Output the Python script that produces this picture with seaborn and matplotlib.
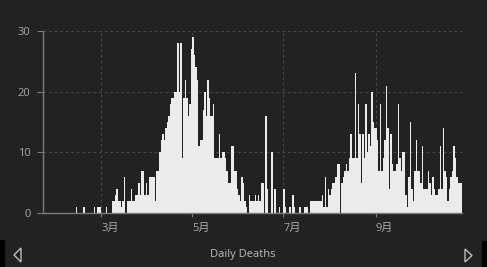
import matplotlib
matplotlib.use("Agg")
import matplotlib.pyplot as plt
import seaborn as sns
import pandas as pd
from matplotlib.patches import Polygon, Rectangle
import matplotlib.transforms as mtransforms

# ---------------- data ----------------
start_date = "2020-01-22"
deaths_jan = [0, 0, 0, 0, 0, 0, 0, 0, 0, 0]
deaths_feb = [0, 0, 0, 0, 0, 0, 0, 0, 0, 0, 0, 0, 1, 0, 0, 0, 0, 1, 0, 0,
              0, 0, 0, 0, 1, 0, 1, 1, 1]
deaths_mar = [0, 0, 0, 1, 0, 0, 0, 2, 2, 3, 4, 2, 2, 1, 2, 6, 0, 2, 2, 2,
              4, 2, 2, 3, 3, 5, 3, 7, 7, 3, 5]
deaths_apr = [3, 6, 6, 6, 6, 2, 7, 7, 10, 12, 13, 12, 14, 15, 16, 18, 19, 19, 20, 20,
              28, 20, 28, 9, 19, 22, 19, 16, 18, 27]
deaths_may = [29, 26, 24, 22, 11, 12, 12, 17, 20, 16, 22, 19, 16, 16, 18, 9, 9, 9, 13, 9,
              10, 10, 9, 7, 5, 5, 11, 11, 7, 7, 4]
deaths_jun = [3, 2, 6, 5, 2, 1, 0, 3, 2, 2, 2, 3, 2, 3, 2, 5, 5, 0, 16, 4,
              0, 0, 10, 0, 4, 0, 0, 1, 0, 0]
deaths_jul = [4, 1, 0, 0, 1, 0, 3, 1, 0, 0, 0, 1, 0, 0, 1, 1, 1, 0, 2, 2,
              2, 2, 2, 2, 2, 2, 3, 1, 6, 1, 4]
deaths_aug = [3, 4, 5, 5, 6, 8, 8, 0, 5, 6, 7, 8, 7, 9, 13, 9, 9, 23, 9, 18,
              13, 5, 13, 9, 18, 10, 13, 11, 20, 15, 14]
deaths_sep = [14, 12, 7, 18, 7, 9, 12, 21, 14, 4, 13, 8, 7, 7, 8, 18, 9, 7, 10, 10,
              3, 1, 6, 15, 4, 2, 7, 12, 7, 7]
deaths_oct = [5, 11, 4, 4, 4, 7, 5, 3, 6, 4, 3, 3, 4, 11, 4, 14, 7, 6, 2, 4,
              6, 7, 11, 9, 6, 5, 5, 5]
deaths = (deaths_jan + deaths_feb + deaths_mar + deaths_apr + deaths_may +
          deaths_jun + deaths_jul + deaths_aug + deaths_sep + deaths_oct)

tick_dates = ["2020-03-01", "2020-05-01", "2020-07-01", "2020-09-01"]
tick_labels = ["3月", "5月", "7月", "9月"]
y_ticks = [0, 10, 20, 30]
caption = "Daily Deaths"

# ---------------- style ----------------
BG = "#222222"
BAR = "#ebebeb"
GRID = "#484848"
SPINE = "#7a7a7a"
TEXT = "#a8a8a8"

sns.set_theme(style="dark")
plt.rcParams["font.family"] = ["Open Sans", "Noto Sans CJK SC", "DejaVu Sans"]

dates = pd.date_range(start_date, periods=len(deaths), freq="D")
df = pd.DataFrame({"day": range(len(deaths)), "deaths": deaths})

W, H = 487, 267
fig = plt.figure(figsize=(W / 100, H / 100), dpi=100, facecolor=BG)
ax = fig.add_axes([43 / W, 1 - 213 / H, (462 - 43) / W, (213 - 31) / H])
ax.set_facecolor(BG)

sns.barplot(data=df, x="day", y="deaths", color=BAR, width=1.0,
            saturation=1, errorbar=None, linewidth=0, ax=ax, zorder=2)

ax.set_xlim(-0.5, len(deaths) - 0.5)
ax.set_ylim(0, 30)

tick_pos = [dates.get_loc(pd.Timestamp(d)) - 0.5 for d in tick_dates]
ax.set_xticks(tick_pos)
ax.set_xticklabels(tick_labels)
ax.set_yticks(y_ticks)
ax.set_yticklabels([str(v) for v in y_ticks])

for lbl in ax.get_xticklabels():
    lbl.set_horizontalalignment("left")
    lbl.set_transform(lbl.get_transform() +
                      mtransforms.ScaledTranslation(2 / 100, 0, fig.dpi_scale_trans))

ax.set_xlabel("")
ax.set_ylabel("")
ax.grid(True, axis="both", color=GRID, linestyle=(0, (2.5, 2.5)), linewidth=0.8)
ax.set_axisbelow(True)

for s in ["top", "right"]:
    ax.spines[s].set_visible(False)
for s in ["left", "bottom"]:
    ax.spines[s].set_visible(True)
    ax.spines[s].set_color(SPINE)
    ax.spines[s].set_linewidth(1.0)
    ax.spines[s].set_zorder(3)

ax.tick_params(axis="y", left=True, length=4, width=0.8, color=SPINE,
               labelcolor=TEXT, labelsize=8, pad=5)
ax.tick_params(axis="x", bottom=True, length=3, width=0.8, color=SPINE,
               labelcolor=TEXT, labelsize=8, pad=4)

# bottom caption with navigation arrows
fig.text(243 / W, 1 - 254 / H, caption, color="#bdbdbd", fontsize=8,
         ha="center", va="center")


def px(x, y):
    return (x / W, 1 - y / H)


for pts in ([(21, 248), (21, 262), (14, 255)],
            [(465, 249), (465, 262), (472, 255.5)]):
    fig.patches.append(Polygon([px(*p) for p in pts], closed=True, fill=False,
                               edgecolor="#bdbdbd", linewidth=1.0,
                               transform=fig.transFigure, figure=fig))

fig.patches.append(Rectangle(px(0, 267), 4 / W, 27 / H, color="black",
                             transform=fig.transFigure, figure=fig))
fig.patches.append(Rectangle(px(482, 267), 5 / W, 26 / H, color="black",
                             transform=fig.transFigure, figure=fig))

fig.savefig("out.png", dpi=100, facecolor=BG)
